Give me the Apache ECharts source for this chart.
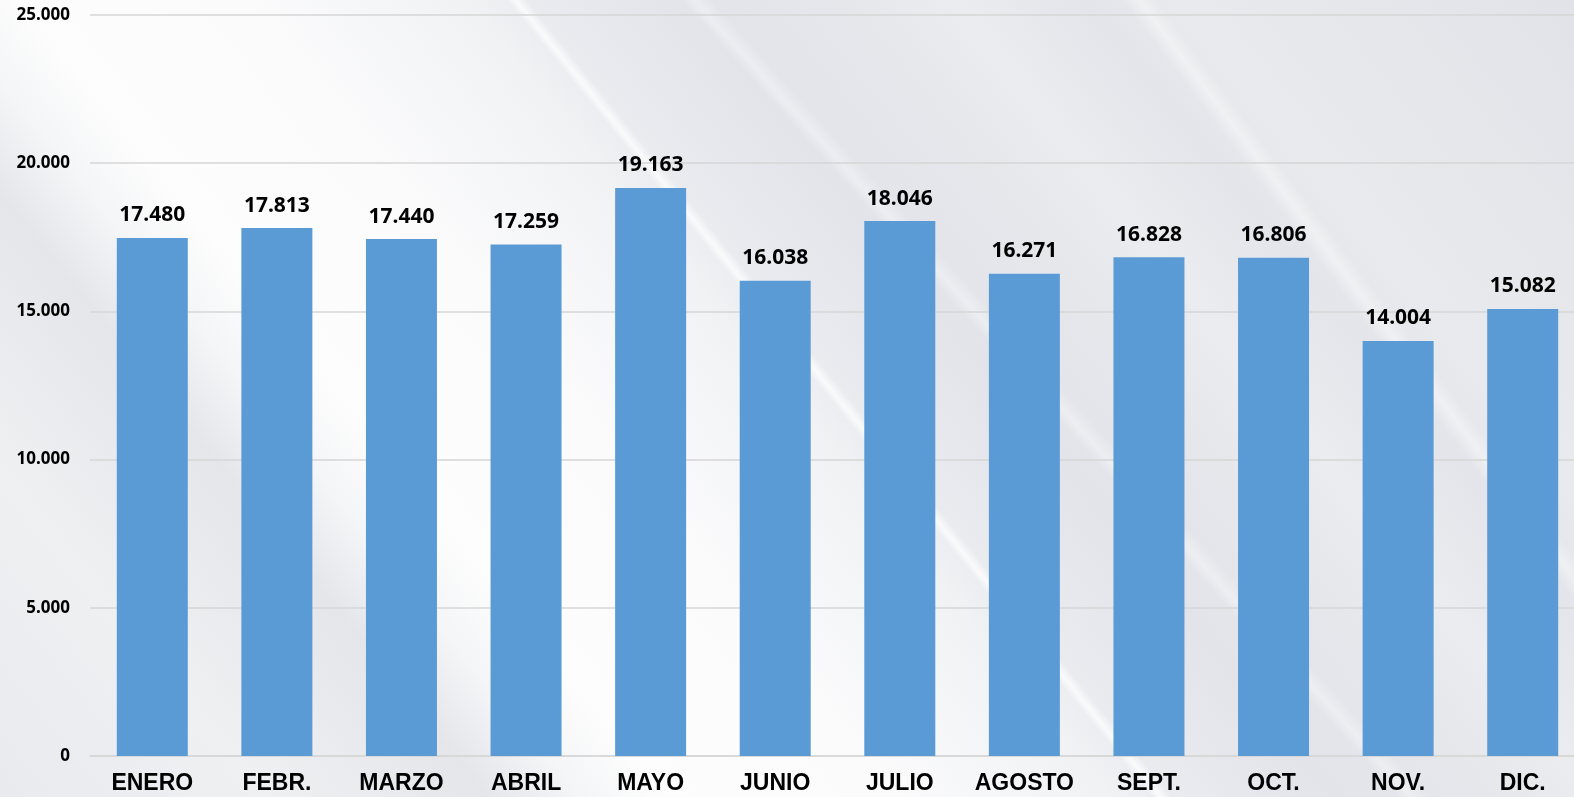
<!DOCTYPE html>
<html>
<head>
<meta charset="utf-8">
<script src="https://cdn.jsdelivr.net/npm/echarts@6/dist/echarts.min.js"></script>
<style>
html, body { margin: 0; padding: 0; width: 1574px; height: 797px; overflow: hidden; }
body {
  background:
    linear-gradient(51deg, rgba(255,255,255,0) 51.9%, rgba(255,255,255,0.75) 52.3%, rgba(255,255,255,0) 52.8%),
    linear-gradient(48deg, rgba(255,255,255,0) 61%, rgba(255,255,255,0.35) 61.6%, rgba(255,255,255,0) 62.4%),
    linear-gradient(53deg, rgba(255,255,255,0) 79.2%, rgba(255,255,255,0.4) 80%, rgba(255,255,255,0) 80.8%),
    linear-gradient(51deg, #e9eaee 0%, #eef0f2 12%, #e4e6ea 22%, #f4f5f7 26%, #fdfdfd 30%, #fbfbfc 40%, #f1f2f4 50%, #eaebef 53%, #e3e4ea 60%, #e6e7eb 67%, #ebecef 72%, #e4e5ea 78%, #e9eaed 82%, #e2e3e8 100%);
}
#chart { width: 1574px; height: 797px; }
</style>
</head>
<body>
<div id="chart"></div>
<script>
const categories = ['ENERO', 'FEBR.', 'MARZO', 'ABRIL', 'MAYO', 'JUNIO', 'JULIO', 'AGOSTO', 'SEPT.', 'OCT.', 'NOV.', 'DIC.'];
const values = [17480, 17813, 17440, 17259, 19163, 16038, 18046, 16271, 16828, 16806, 14004, 15082];
const yMin = 0;
const yMax = 25000;
const yInterval = 5000;

function fmt(v) {
  return String(v).replace(/\B(?=(\d{3})+(?!\d))/g, '.');
}

const chart = echarts.init(document.getElementById('chart'), null, { renderer: 'canvas' });
chart.setOption({
  backgroundColor: 'transparent',
  animation: false,
  grid: { left: 90, right: -11, top: 15, bottom: 41, containLabel: false, outerBoundsMode: 'none' },
  xAxis: {
    type: 'category',
    data: categories,
    axisLine: { show: true, lineStyle: { color: '#d6d6d6', width: 1.5 } },
    axisTick: { show: false },
    axisLabel: {
      interval: 0,
      margin: 16,
      color: '#000',
      fontFamily: '"Liberation Sans", Arial, sans-serif',
      fontWeight: 'bold',
      fontSize: 23
    }
  },
  yAxis: {
    type: 'value',
    min: yMin,
    max: yMax,
    interval: yInterval,
    axisLine: { show: false },
    axisTick: { show: false },
    splitLine: { lineStyle: { color: '#d6d6d6', width: 1.5 } },
    axisLabel: {
      margin: 20,
      color: '#000',
      fontFamily: '"Noto Sans", sans-serif',
      fontWeight: 'bold',
      fontSize: 17,
      formatter: v => fmt(v)
    }
  },
  series: [{
    type: 'bar',
    data: values,
    barWidth: 71,
    itemStyle: { color: '#5b9bd5' },
    label: {
      show: true,
      position: 'top',
      distance: 12,
      color: '#000',
      fontFamily: '"Noto Sans", sans-serif',
      fontWeight: 'bold',
      fontSize: 21,
      formatter: p => fmt(p.value)
    }
  }]
});
</script>
</body>
</html>
